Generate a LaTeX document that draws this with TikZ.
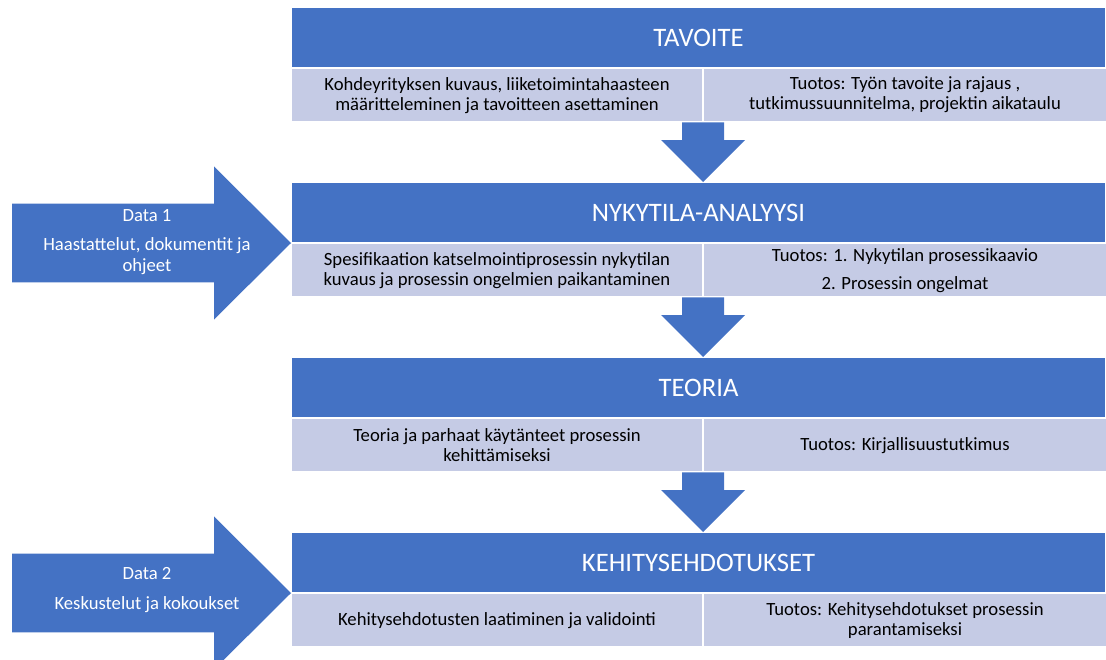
\documentclass[tikz,border=0pt]{standalone}
\usepackage{fontspec}
\setmainfont{Carlito}
\usetikzlibrary{calc}
\definecolor{hdrblue}{RGB}{68,114,196}
\definecolor{cellblue}{RGB}{197,203,229}

% downward block arrow from the bottom of one row to the top of the next header
\newcommand\dnarrow[2]{%
  \fill[hdrblue] let \p1=(#1.south east), \p2=(#2.north) in
    (\x1-15.75pt,\y1) -- (\x1-15.75pt,\y2+31.5pt) -- (\x1-31.5pt,\y2+31.5pt)
    -- (\x1,\y2) -- (\x1+31.5pt,\y2+31.5pt) -- (\x1+15.75pt,\y2+31.5pt)
    -- (\x1+15.75pt,\y1) -- cycle;}

% block arrow pointing right, tip at the lower left corner of a header
\newcommand\sidearrow[1]{%
  \fill[hdrblue] let \p1=(#1.south west) in
    (\x1-209.25pt,\y1+29.6pt) -- (\x1-57.75pt,\y1+29.6pt) -- (\x1-57.75pt,\y1+57.4pt)
    -- (\x1,\y1) -- (\x1-57.75pt,\y1-57.4pt) -- (\x1-57.75pt,\y1-29.6pt)
    -- (\x1-209.25pt,\y1-29.6pt) -- cycle;}

\begin{document}
\begin{tikzpicture}[x=0.75pt,y=-0.75pt,
  hdr/.style={fill=hdrblue, draw=white, line width=0.75pt, text=white,
    font=\fontsize{20}{24}\selectfont, minimum width=610.5pt, minimum height=45pt,
    inner sep=0pt, anchor=north west},
  cell/.style={fill=cellblue, draw=white, line width=0.75pt, text=black,
    font=\fontsize{14}{15}\selectfont, align=center, minimum height=40pt,
    inner sep=0pt, anchor=north west},
  cellL/.style={cell, minimum width=308.25pt},
  cellR/.style={cell, minimum width=302.25pt},
  datatxt/.style={text=white, font=\fontsize{14}{15.5}\selectfont, align=center, inner sep=0pt}]
\useasboundingbox (0,0) rectangle (1106,660);

% phase 1
\node[hdr] (t1) at (291,7) {TAVOITE};
\node[cellL] (t1L) at (t1.south west) {Kohdeyrityksen kuvaus, liiketoimintahaasteen\\määritteleminen ja tavoitteen asettaminen};
\node[cellR] (t1R) at (t1L.north east) {Tuotos: Työn tavoite ja rajaus ,\\tutkimussuunnitelma, projektin aikataulu};

% phase 2
\node[hdr] (t2) at (291,182) {NYKYTILA-ANALYYSI};
\node[cellL] (t2L) at (t2.south west) {Spesifikaation katselmointiprosessin nykytilan\\kuvaus ja prosessin ongelmien paikantaminen};
\node[cellR] (t2R) at (t2L.north east) {Tuotos: 1. Nykytilan prosessikaavio\\[6pt]2. Prosessin ongelmat};

% phase 3
\node[hdr] (t3) at (291,357) {TEORIA};
\node[cellL] (t3L) at (t3.south west) {Teoria ja parhaat käytänteet prosessin\\kehittämiseksi};
\node[cellR] (t3R) at (t3L.north east) {Tuotos: Kirjallisuustutkimus};

% phase 4
\node[hdr] (t4) at (291,532) {KEHITYSEHDOTUKSET};
\node[cellL] (t4L) at (t4.south west) {Kehitysehdotusten laatiminen ja validointi};
\node[cellR] (t4R) at (t4L.north east) {Tuotos: Kehitysehdotukset prosessin\\parantamiseksi};

% flow between phases
\dnarrow{t1L}{t2}
\dnarrow{t2L}{t3}
\dnarrow{t3L}{t4}

% data inputs
\sidearrow{t2}
\sidearrow{t4}
\node[datatxt] (d1) at (147,242) {Data 1\\[6.5pt]Haastattelut, dokumentit ja\\ohjeet};
\node[datatxt] (d2) at (147,590) {Data 2\\[6.5pt]Keskustelut ja kokoukset};
\end{tikzpicture}
\end{document}
